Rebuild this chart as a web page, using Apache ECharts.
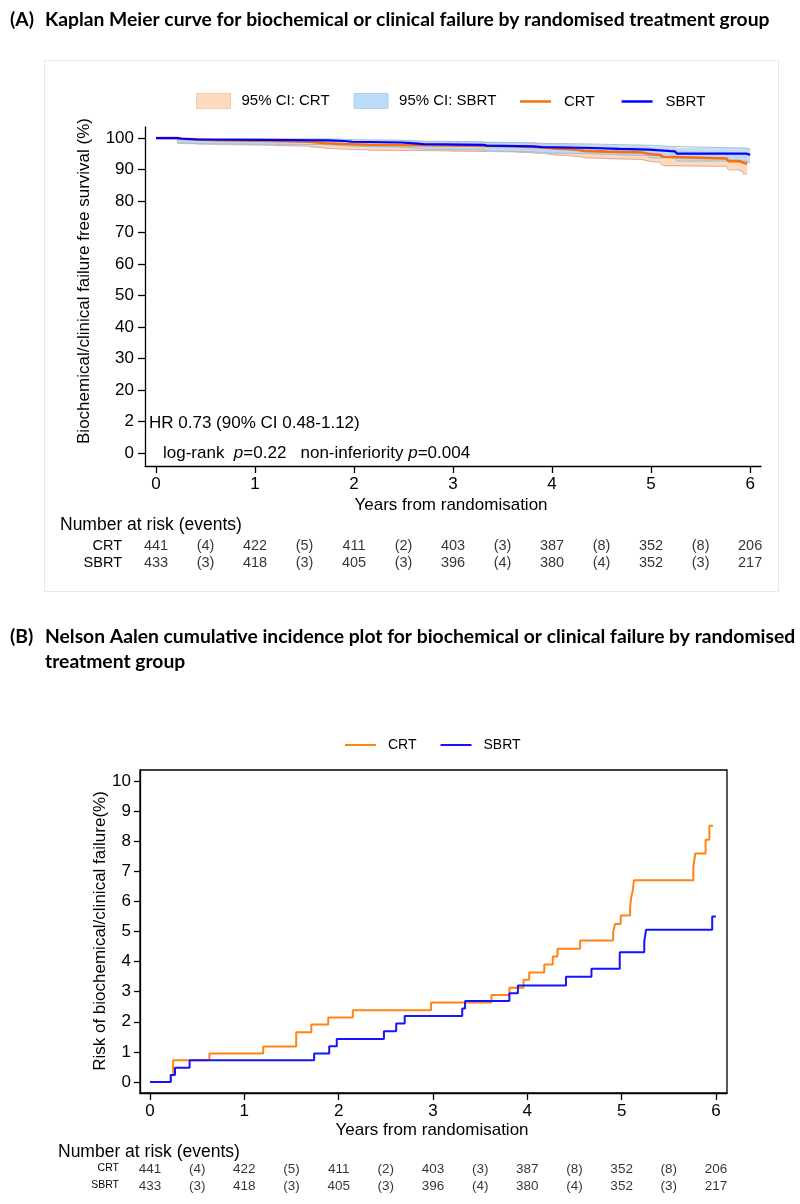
<!DOCTYPE html>
<html>
<head>
<meta charset="utf-8">
<script src="https://cdn.jsdelivr.net/npm/echarts@6/dist/echarts.min.js"></script>
<style>html,body{margin:0;padding:0;background:#fff}#c{width:800px;height:1204px}</style>
</head>
<body>
<div id="c"></div>
<script>
// ---------- DATA ----------
const xTicks = [0, 1, 2, 3, 4, 5, 6];
const yTicksA = [0, 10, 20, 30, 40, 50, 60, 70, 80, 90, 100];
const yTickLabelsA = ['0', '2', '20', '30', '40', '50', '60', '70', '80', '90', '100'];
const yTicksB = [0, 1, 2, 3, 4, 5, 6, 7, 8, 9, 10];

// CRT step times (years)
const crtTime = [0, 0.22, 0.245, 0.63, 1.20, 1.55, 1.71, 1.89, 2.15, 2.98, 3.62, 3.81, 3.96, 4.02, 4.18, 4.27, 4.32, 4.56, 4.91, 4.93, 4.99, 5.09, 5.10, 5.12, 5.13, 5.76, 5.78, 5.89, 5.93, 5.97];
const crtCumInc = [0, 0.23, 0.72, 0.95, 1.18, 1.65, 1.91, 2.14, 2.38, 2.64, 2.89, 3.13, 3.40, 3.64, 3.90, 4.17, 4.43, 4.70, 4.98, 5.25, 5.53, 5.81, 6.11, 6.39, 6.70, 7.13, 7.59, 8.05, 8.51, 8.51];
const crtSurv = [100, 99.77, 99.28, 99.05, 98.83, 98.36, 98.11, 97.88, 97.65, 97.39, 97.15, 96.92, 96.66, 96.43, 96.18, 95.92, 95.67, 95.41, 95.14, 94.88, 94.62, 94.35, 94.07, 93.80, 93.51, 93.11, 92.68, 92.25, 91.82, 91.82];
const crtSurvLo = [100, 98.4, 98.0, 97.7, 97.4, 96.8, 96.5, 96.2, 95.9, 95.6, 95.3, 95.0, 94.7, 94.4, 94.1, 93.8, 93.5, 93.2, 92.9, 92.6, 92.3, 92.0, 91.6, 91.3, 91.0, 90.4, 89.9, 89.3, 88.6, 88.6];
const crtSurvHi = [100, 99.97, 99.7, 99.6, 99.5, 99.2, 99.0, 98.9, 98.7, 98.5, 98.3, 98.1, 97.9, 97.7, 97.5, 97.3, 97.1, 96.9, 96.7, 96.5, 96.3, 96.1, 95.9, 95.7, 95.4, 95.1, 94.8, 94.5, 94.2, 94.2];

// SBRT step times (years)
const sbrtTime = [0, 0.22, 0.265, 0.42, 1.74, 1.90, 1.98, 2.48, 2.61, 2.70, 3.31, 3.34, 3.81, 3.90, 4.41, 4.68, 4.98, 5.24, 5.26, 5.96, 6.0];
const sbrtCumInc = [0, 0.23, 0.47, 0.72, 0.95, 1.19, 1.43, 1.69, 1.94, 2.19, 2.44, 2.69, 2.95, 3.21, 3.50, 3.76, 4.31, 4.69, 5.06, 5.50, 5.50];
const sbrtSurv = [100, 99.77, 99.53, 99.28, 99.05, 98.82, 98.58, 98.32, 98.08, 97.83, 97.59, 97.35, 97.09, 96.84, 96.56, 96.31, 95.78, 95.42, 95.07, 94.65, 94.65];
const sbrtSurvLo = [100, 98.4, 98.2, 97.9, 97.6, 97.4, 97.1, 96.8, 96.5, 96.2, 95.9, 95.6, 95.3, 95.0, 94.7, 94.4, 93.7, 93.2, 92.7, 92.1, 92.1];
const sbrtSurvHi = [100, 99.97, 99.85, 99.7, 99.6, 99.45, 99.3, 99.15, 99.0, 98.8, 98.65, 98.5, 98.3, 98.1, 97.9, 97.7, 97.3, 97.0, 96.8, 96.5, 96.5];

// Number at risk table
const riskTimes = [0, 0.5, 1, 1.5, 2, 2.5, 3, 3.5, 4, 4.5, 5, 5.5, 6];
const groups = ['CRT', 'SBRT'];
const crtAtRisk = [441, 422, 411, 403, 387, 352, 206];
const crtEvents = [4, 5, 2, 3, 8, 8];
const sbrtAtRisk = [433, 418, 405, 396, 380, 352, 217];
const sbrtEvents = [3, 3, 3, 4, 4, 3];

// ---------- STYLE ----------
const FONT = "'Liberation Sans', Arial, sans-serif";
const TFONT = "Lato, 'Open Sans', sans-serif";
const TSIZE = 19.3;
const crtColA = '#f7700f', sbrtColA = '#0000ff';
const crtColB = '#ff8414', sbrtColB = '#1414ff';
const crtFill = '#fdd9bd', sbrtFill = 'rgba(178,214,247,0.80)';
const crtEdge = '#dcaea4', sbrtEdge = '#a9bccb';

const zip = (a, b) => a.map((v, i) => [v, b[i]]);

function riskData(atRisk, events, row) {
  return riskTimes.map((t, k) => [t, row, k % 2 === 0 ? String(atRisk[k / 2]) : '(' + events[(k - 1) / 2] + ')']);
}

// step-band polygon through the axis scales
function bandSeries(name, times, lo, hi, fill, z) {
  return {
    type: 'custom', name: name, xAxisIndex: 0, yAxisIndex: 0, silent: true, z: z,
    itemStyle: {color: fill},
    data: [[times[0], lo[0]]],
    renderItem: function (params, api) {
      const upper = [], lower = [];
      for (let i = 0; i < times.length; i++) {
        const tNext = i < times.length - 1 ? times[i + 1] : times[i];
        upper.push(api.coord([times[i], hi[i]]), api.coord([tNext, hi[i]]));
        lower.push(api.coord([times[i], lo[i]]), api.coord([tNext, lo[i]]));
      }
      return {type: 'polygon', shape: {points: upper.concat(lower.reverse())}, style: {fill: fill}};
    }
  };
}
function edgeSeries(name, times, vals, color, z) {
  return {type: 'line', name: name, xAxisIndex: 0, yAxisIndex: 0, step: 'end', symbol: 'none', silent: true,
    data: zip(times, vals), lineStyle: {color: color, width: 1}, z: z};
}

const chart = echarts.init(document.getElementById('c'), null, {renderer: 'canvas'});

const axisLineStyle = {color: '#000', width: 1.3};
function valAxis(extra) {
  return Object.assign({
    type: 'value',
    splitLine: {show: false},
    axisLine: {show: true, onZero: false, lineStyle: axisLineStyle},
  }, extra);
}

const option = {
  animation: false,
  backgroundColor: '#fff',
  grid: [
    {left: 145, right: 39, top: 127, bottom: 738},
    {left: 140, right: 73, top: 770, bottom: 111, show: true, borderColor: '#000', borderWidth: 1.3, backgroundColor: 'transparent'},
    {left: 145, right: 39, top: 546, height: 17},
    {left: 140, right: 73, top: 1169, height: 17}
  ],
  xAxis: [
    valAxis({gridIndex: 0, min: -0.111, max: 6.11,
      axisTick: {show: true, length: 7, lineStyle: axisLineStyle, customValues: xTicks},
      axisLabel: {customValues: xTicks, margin: 10, fontSize: 17, color: '#000', fontFamily: FONT}}),
    valAxis({gridIndex: 1, min: -0.106, max: 6.117,
      axisTick: {show: true, length: 7, lineStyle: axisLineStyle, customValues: xTicks},
      axisLabel: {customValues: xTicks, margin: 10, fontSize: 17, color: '#000', fontFamily: FONT}}),
    {gridIndex: 2, type: 'value', min: -0.111, max: 6.11, show: false},
    {gridIndex: 3, type: 'value', min: -0.106, max: 6.117, show: false}
  ],
  yAxis: [
    valAxis({gridIndex: 0, min: -4.1, max: 103.5,
      axisTick: {show: true, length: 7, lineStyle: axisLineStyle, customValues: yTicksA},
      axisLabel: {customValues: yTicksA, margin: 11, fontSize: 17, color: '#000', fontFamily: FONT,
        formatter: v => yTickLabelsA[yTicksA.indexOf(v)]}}),
    valAxis({gridIndex: 1, min: -0.365, max: 10.365,
      axisTick: {show: true, length: 6, lineStyle: axisLineStyle, customValues: yTicksB},
      axisLabel: {customValues: yTicksB, margin: 9, fontSize: 17, color: '#000', fontFamily: FONT}}),
    {gridIndex: 2, type: 'value', min: 0, max: 1, inverse: true, show: false},
    {gridIndex: 3, type: 'value', min: 0, max: 1, inverse: true, show: false}
  ],
  legend: [
    {left: 196, top: 93, padding: 0, itemWidth: 34, itemHeight: 15, itemGap: 24, icon: 'rect', selectedMode: false,
      data: [
        {name: '95% CI: CRT', itemStyle: {color: crtFill, borderColor: '#f4ccb0', borderWidth: 1}},
        {name: '95% CI: SBRT', itemStyle: {color: '#bcdcf8', borderColor: '#aed0f0', borderWidth: 1}}
      ],
      textStyle: {fontSize: 15, fontFamily: FONT, color: '#000', padding: [0, 0, 0, 6]}},
    {left: 520, top: 94, padding: 0, itemWidth: 31, itemHeight: 2.5, itemGap: 27, icon: 'rect', selectedMode: false,
      data: [
        {name: 'CRT', itemStyle: {color: crtColA}},
        {name: 'SBRT', itemStyle: {color: sbrtColA}}
      ],
      textStyle: {fontSize: 15, fontFamily: FONT, color: '#000', padding: [0, 0, 0, 8]}},
    {left: 345, top: 738, padding: 0, itemWidth: 31, itemHeight: 2, itemGap: 24, icon: 'rect', selectedMode: false,
      data: [
        {name: 'CRT ', itemStyle: {color: crtColB}},
        {name: 'SBRT ', itemStyle: {color: sbrtColB}}
      ],
      formatter: n => n.trim(),
      textStyle: {fontSize: 14, fontFamily: FONT, color: '#000', padding: [0, 0, 0, 7]}}
  ],
  series: [
    // Panel A confidence bands
    bandSeries('95% CI: CRT', crtTime, crtSurvLo, crtSurvHi, crtFill, 1),
    edgeSeries('crtLo', crtTime, crtSurvLo, crtEdge, 1),
    edgeSeries('crtHi', crtTime, crtSurvHi, crtEdge, 1),
    bandSeries('95% CI: SBRT', sbrtTime, sbrtSurvLo, sbrtSurvHi, sbrtFill, 2),
    edgeSeries('sbrtLo', sbrtTime, sbrtSurvLo, sbrtEdge, 2),
    edgeSeries('sbrtHi', sbrtTime, sbrtSurvHi, sbrtEdge, 2),
    // Panel A KM lines
    {type: 'line', name: 'CRT', xAxisIndex: 0, yAxisIndex: 0, step: 'end', symbol: 'none',
      data: zip(crtTime, crtSurv), itemStyle: {color: crtColA}, lineStyle: {color: crtColA, width: 2.6}, z: 3},
    {type: 'line', name: 'SBRT', xAxisIndex: 0, yAxisIndex: 0, step: 'end', symbol: 'none',
      data: zip(sbrtTime, sbrtSurv), itemStyle: {color: sbrtColA}, lineStyle: {color: sbrtColA, width: 2.2}, z: 4},
    // Panel B Nelson-Aalen
    {type: 'line', name: 'CRT ', xAxisIndex: 1, yAxisIndex: 1, step: 'end', symbol: 'none',
      data: zip(crtTime, crtCumInc), itemStyle: {color: crtColB}, lineStyle: {color: crtColB, width: 2}, z: 3},
    {type: 'line', name: 'SBRT ', xAxisIndex: 1, yAxisIndex: 1, step: 'end', symbol: 'none',
      data: zip(sbrtTime, sbrtCumInc), itemStyle: {color: sbrtColB}, lineStyle: {color: sbrtColB, width: 2}, z: 4},
    // Risk tables
    {type: 'scatter', name: 'riskA', xAxisIndex: 2, yAxisIndex: 2, symbolSize: 1, itemStyle: {color: 'rgba(0,0,0,0)'},
      data: riskData(crtAtRisk, crtEvents, 0).concat(riskData(sbrtAtRisk, sbrtEvents, 1)), silent: true,
      label: {show: true, position: 'inside', formatter: p => p.value[2], fontSize: 14.5, fontFamily: FONT, color: '#000'}},
    {type: 'scatter', name: 'riskB', xAxisIndex: 3, yAxisIndex: 3, symbolSize: 1, itemStyle: {color: 'rgba(0,0,0,0)'},
      data: riskData(crtAtRisk, crtEvents, 0).concat(riskData(sbrtAtRisk, sbrtEvents, 1)), silent: true,
      label: {show: true, position: 'inside', formatter: p => p.value[2], fontSize: 13.5, fontFamily: FONT, color: '#000'}}
  ],
  graphic: [
    {type: 'rect', silent: true, z: -10, shape: {x: 44.5, y: 60.5, width: 734, height: 531},
      style: {fill: 'none', stroke: '#e1ecec', lineWidth: 1}},
    // titles
    {type: 'text', x: 10, y: 20, style: {text: '(A)', fontFamily: TFONT, fontWeight: 'bold', fontSize: TSIZE, fill: '#000', textVerticalAlign: 'middle'}},
    {type: 'text', x: 45, y: 20, style: {text: 'Kaplan Meier curve for biochemical or clinical failure by randomised treatment group', fontFamily: TFONT, fontWeight: 'bold', fontSize: TSIZE, fill: '#000', textVerticalAlign: 'middle'}},
    {type: 'text', x: 10, y: 637, style: {text: '(B)', fontFamily: TFONT, fontWeight: 'bold', fontSize: TSIZE, fill: '#000', textVerticalAlign: 'middle'}},
    {type: 'text', x: 45, y: 637, style: {text: 'Nelson Aalen cumulative incidence plot for biochemical or clinical failure by randomised', fontFamily: TFONT, fontWeight: 'bold', fontSize: TSIZE, fill: '#000', textVerticalAlign: 'middle'}},
    {type: 'text', x: 45, y: 662, style: {text: 'treatment group', fontFamily: TFONT, fontWeight: 'bold', fontSize: TSIZE, fill: '#000', textVerticalAlign: 'middle'}},
    // axis titles
    {type: 'text', x: 84, y: 281, rotation: Math.PI / 2, style: {text: 'Biochemical/clinical failure free survival (%)', fontFamily: FONT, fontSize: 17, fill: '#000', textAlign: 'center', textVerticalAlign: 'middle'}},
    {type: 'text', x: 451, y: 505, style: {text: 'Years from randomisation', fontFamily: FONT, fontSize: 17, fill: '#000', textAlign: 'center', textVerticalAlign: 'middle'}},
    {type: 'text', x: 100, y: 931, rotation: Math.PI / 2, style: {text: 'Risk of biochemical/clinical failure(%)', fontFamily: FONT, fontSize: 17, fill: '#000', textAlign: 'center', textVerticalAlign: 'middle'}},
    {type: 'text', x: 432, y: 1130, style: {text: 'Years from randomisation', fontFamily: FONT, fontSize: 17, fill: '#000', textAlign: 'center', textVerticalAlign: 'middle'}},
    // annotations
    {type: 'text', x: 149, y: 423, style: {text: 'HR 0.73 (90% CI 0.48-1.12)', fontFamily: FONT, fontSize: 17, fill: '#000', textVerticalAlign: 'middle'}},
    {type: 'text', x: 163, y: 453, style: {text: 'log-rank  {i|p}=0.22   non-inferiority {i|p}=0.004', fontFamily: FONT, fontSize: 17, fill: '#000', textVerticalAlign: 'middle',
      rich: {i: {fontStyle: 'italic', fontFamily: FONT, fontSize: 17, fill: '#000'}}}},
    // risk table headers
    {type: 'text', x: 60, y: 525, style: {text: 'Number at risk (events)', fontFamily: FONT, fontSize: 17.5, fill: '#000', textVerticalAlign: 'middle'}},
    {type: 'text', x: 122, y: 546, style: {text: groups[0], fontFamily: FONT, fontSize: 14.5, fill: '#000', textAlign: 'right', textVerticalAlign: 'middle'}},
    {type: 'text', x: 122, y: 563, style: {text: groups[1], fontFamily: FONT, fontSize: 14.5, fill: '#000', textAlign: 'right', textVerticalAlign: 'middle'}},
    {type: 'text', x: 58, y: 1152, style: {text: 'Number at risk (events)', fontFamily: FONT, fontSize: 17.5, fill: '#000', textVerticalAlign: 'middle'}},
    {type: 'text', x: 119, y: 1168, style: {text: groups[0], fontFamily: FONT, fontSize: 10.5, fill: '#000', textAlign: 'right', textVerticalAlign: 'middle'}},
    {type: 'text', x: 119, y: 1185, style: {text: groups[1], fontFamily: FONT, fontSize: 10.5, fill: '#000', textAlign: 'right', textVerticalAlign: 'middle'}}
  ]
};

chart.setOption(option);
</script>
</body>
</html>
